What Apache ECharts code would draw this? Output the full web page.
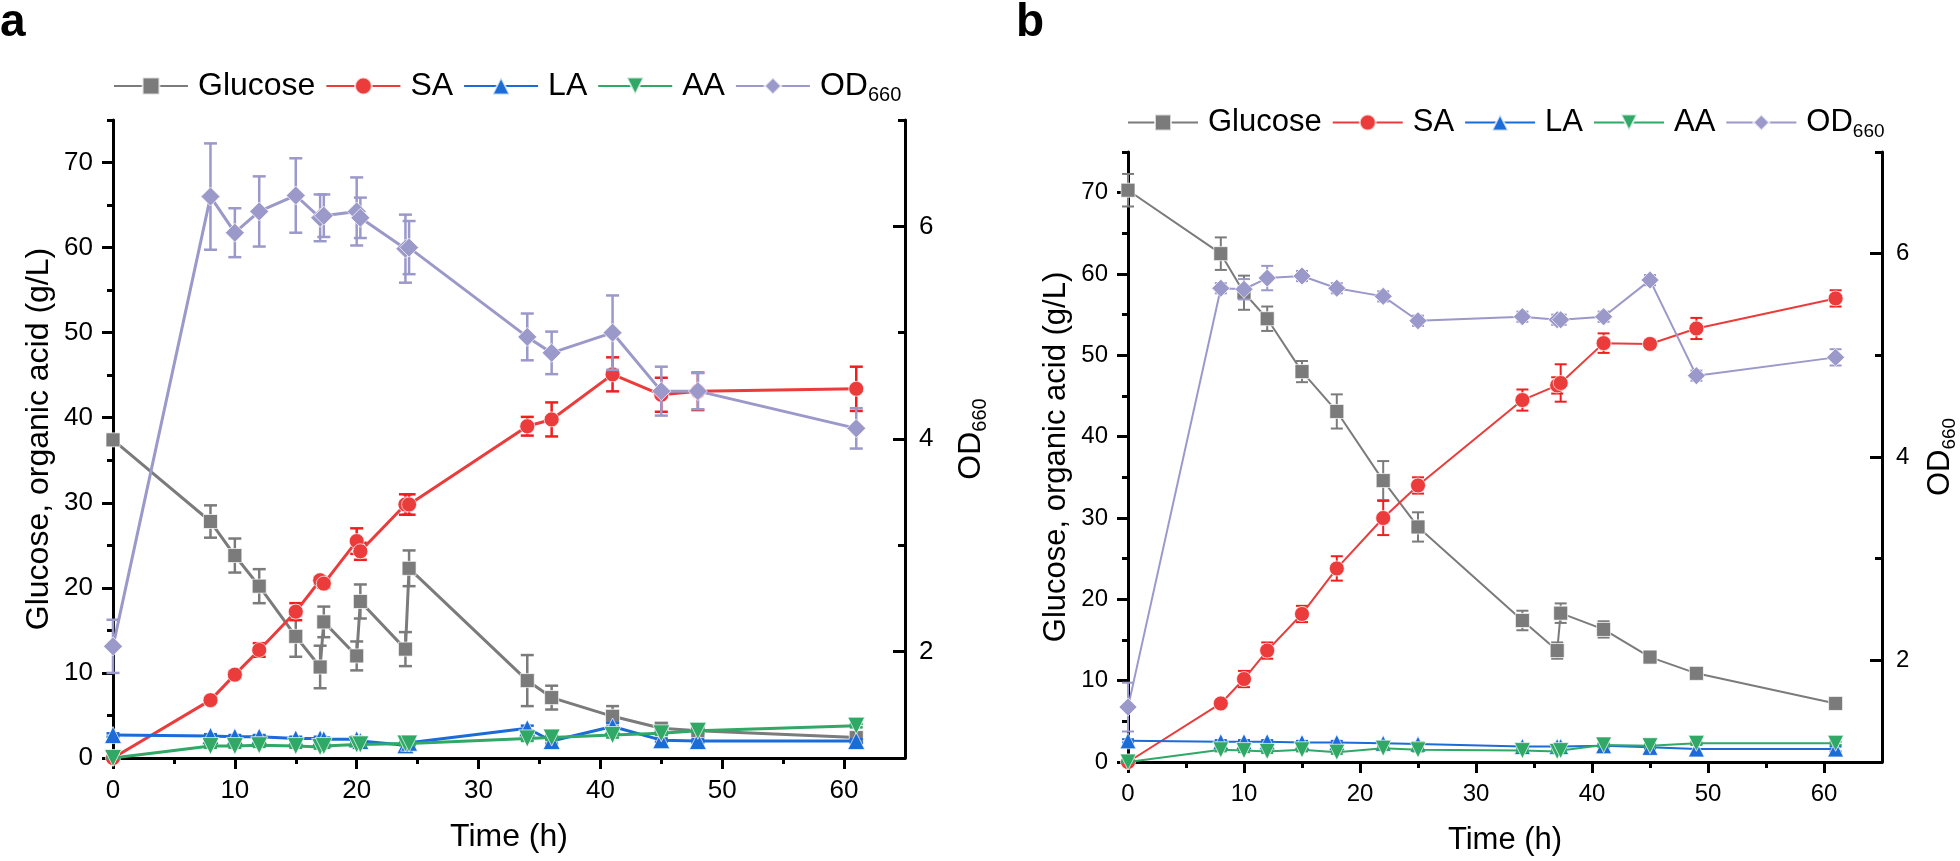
<!DOCTYPE html>
<html><head><meta charset="utf-8">
<script src="https://cdn.jsdelivr.net/npm/echarts@6/dist/echarts.min.js"></script>
<style>html,body{margin:0;padding:0;background:#fff}#c{width:1960px;height:861px}</style>
</head><body><div id="c"></div>
<script>
// ---------- Panel a data ----------
const timeA = [0, 8, 10, 12, 15, 17, 17.3, 20, 20.3, 24, 24.3, 34, 36, 41, 45, 48, 61];
const glucoseA = [37.4, 27.8, 23.8, 20.2, 14.3, 10.7, 16.0, 12.0, 18.4, 12.8, 22.3, 9.1, 7.1, 4.9, 3.5, 3.2, 2.4];
const glucoseErrA = [0.6, 1.9, 2.0, 2.0, 2.4, 2.5, 1.8, 1.7, 2.0, 2.0, 2.1, 3.0, 1.4, 1.2, 0.5, 0.4, 0.5];
const saA = [0, 6.8, 9.8, 12.7, 17.2, 20.9, 20.5, 25.5, 24.3, 29.8, 29.8, 39.0, 39.8, 45.1, 42.7, 43.1, 43.4];
const saErrA = [0.2, 0.3, 0.4, 0.8, 1.0, 0.4, 0.5, 1.5, 1.0, 1.2, 1.2, 1.1, 2.0, 2.0, 2.0, 2.2, 2.6];
const laA = [2.7, 2.6, 2.5, 2.5, 2.3, 2.3, 2.2, 2.2, 2.0, 1.5, 1.8, 3.5, 2.0, 3.7, 2.1, 2.0, 2.0];
const laErrA = [0.2, 0.2, 0.2, 0.2, 0.2, 0.2, 0.2, 0.3, 0.3, 0.8, 0.3, 0.3, 0.3, 0.4, 0.2, 0.2, 0.2];
const aaA = [0, 1.4, 1.4, 1.5, 1.4, 1.3, 1.4, 1.6, 1.6, 1.7, 1.7, 2.3, 2.4, 2.7, 2.9, 3.2, 3.8];
const aaErrA = [0.1, 0.2, 0.2, 0.2, 0.2, 0.2, 0.2, 0.2, 0.2, 0.2, 0.2, 0.3, 0.3, 0.3, 0.2, 0.2, 0.2];
const odA = [2.05, 6.28, 5.94, 6.14, 6.29, 6.08, 6.10, 6.14, 6.08, 5.79, 5.80, 4.96, 4.81, 5.00, 4.45, 4.45, 4.10];
const odErrA = [0.25, 0.50, 0.23, 0.33, 0.35, 0.22, 0.20, 0.32, 0.19, 0.32, 0.25, 0.22, 0.20, 0.35, 0.23, 0.17, 0.19];

// ---------- Panel b data ----------
const timeB = [0, 8, 10, 12, 15, 18, 22, 25, 34, 37, 37.3, 41, 45, 49, 61];
const glucoseB = [70.3, 62.5, 57.7, 54.5, 48.0, 43.1, 34.6, 28.9, 17.4, 13.7, 18.3, 16.3, 12.9, 10.9, 7.2];
const glucoseErrB = [2.0, 2.0, 2.1, 1.5, 1.3, 2.1, 2.4, 1.8, 1.2, 1.0, 1.2, 1.0, 0.3, 0.3, 0.3];
const saB = [0, 7.2, 10.2, 13.7, 18.2, 23.8, 30.0, 34.0, 44.5, 46.3, 46.6, 51.5, 51.4, 53.3, 57.0];
const saErrB = [0.2, 0.3, 1.0, 1.0, 1.0, 1.5, 2.1, 1.0, 1.3, 1.0, 2.3, 1.2, 0.5, 1.3, 1.0];
const laB = [2.6, 2.5, 2.5, 2.5, 2.4, 2.4, 2.3, 2.2, 1.9, 1.9, 1.9, 2.0, 1.8, 1.6, 1.6];
const laErrB = [0.2, 0.2, 0.2, 0.2, 0.2, 0.2, 0.2, 0.2, 0.2, 0.2, 0.2, 0.2, 0.2, 0.6, 0.3];
const aaB = [0, 1.5, 1.4, 1.3, 1.5, 1.2, 1.7, 1.5, 1.4, 1.3, 1.4, 2.1, 2.0, 2.3, 2.3];
const aaErrB = [0.1, 0.2, 0.2, 0.2, 0.2, 0.2, 0.2, 0.2, 0.2, 0.2, 0.2, 0.2, 0.2, 0.2, 0.2];
const odB = [1.54, 5.66, 5.65, 5.76, 5.78, 5.66, 5.58, 5.34, 5.38, 5.35, 5.35, 5.38, 5.74, 4.80, 4.98];
const odErrB = [0.24, 0.05, 0.10, 0.12, 0.05, 0.05, 0.05, 0.05, 0.05, 0.05, 0.05, 0.05, 0.05, 0.05, 0.08];

// ---------- Tick labels ----------
const xMajorTicks = [0, 10, 20, 30, 40, 50, 60];
const xMinorTicks = [5, 15, 25, 35, 45, 55];
const yMajorTicks = [0, 10, 20, 30, 40, 50, 60, 70];
const yMinorTicks = [5, 15, 25, 35, 45, 55, 65, 75];
const odMajorTicks = [2, 4, 6];
const odMinorTicks = [3, 5, 7];
const seriesNames = ['Glucose', 'SA', 'LA', 'AA', 'OD660'];

const FONT = '"Liberation Sans", Arial, Helvetica, sans-serif';
const COL = { Glucose: '#7b7b7b', SA: '#ec3b3b', LA: '#1b6bd9', AA: '#30a866', OD660: '#9b98ca' };
const ERRCOL = { Glucose: '#7b7b7b', SA: '#f01e1e', LA: '#1b6bd9', AA: '#30a866', OD660: '#9b98ca' };

const chart = echarts.init(document.getElementById('c'), null, { renderer: 'canvas' });

function xAxesFor(gi, fs, nfs) {
  const base = { type: 'value', gridIndex: gi, min: 0, max: 65, splitLine: { show: false }, position: 'bottom' };
  return [
    Object.assign({}, base, {
      name: 'Time (h)', nameLocation: 'middle', nameGap: 63,
      nameTextStyle: { fontSize: nfs, color: '#000', fontFamily: FONT },
      axisLine: { show: true, onZero: false, lineStyle: { color: '#000', width: 3 } },
      axisTick: { show: true, customValues: xMajorTicks, length: 11, lineStyle: { color: '#000', width: 3 } },
      axisLabel: { show: true, customValues: xMajorTicks, margin: 20, fontSize: fs, color: '#000', fontFamily: FONT }
    }),
    Object.assign({}, base, {
      axisLine: { show: false, onZero: false },
      axisTick: { show: true, customValues: xMinorTicks, length: 6, lineStyle: { color: '#000', width: 3 } },
      axisLabel: { show: false }
    })
  ];
}
function yAxesFor(gi, fs, nfs, leftGap, rightGap) {
  return [
    { type: 'value', gridIndex: gi, position: 'left', min: 0, max: 75, splitLine: { show: false },
      name: 'Glucose, organic acid (g/L)', nameLocation: 'middle', nameGap: leftGap, nameRotate: 90,
      nameTextStyle: { fontSize: nfs, color: '#000', fontFamily: FONT },
      axisLine: { show: true, onZero: false, lineStyle: { color: '#000', width: 3 } },
      axisTick: { show: true, customValues: yMajorTicks, length: 11, lineStyle: { color: '#000', width: 3 } },
      axisLabel: { show: true, customValues: yMajorTicks, margin: 20, fontSize: fs, color: '#000', fontFamily: FONT } },
    { type: 'value', gridIndex: gi, position: 'left', min: 0, max: 75, splitLine: { show: false },
      axisLine: { show: false, onZero: false },
      axisTick: { show: true, customValues: yMinorTicks, length: 6, lineStyle: { color: '#000', width: 3 } },
      axisLabel: { show: false } },
    { type: 'value', gridIndex: gi, position: 'right', min: 1, max: 7, splitLine: { show: false },
      name: '{n|OD}{s|660}', nameLocation: 'middle', nameGap: rightGap, nameRotate: 90,
      nameTextStyle: { color: '#000', fontFamily: FONT,
        rich: { n: { fontSize: nfs, fontFamily: FONT, color: '#000', lineHeight: nfs + 6 },
                s: { fontSize: Math.round(nfs * 0.62), fontFamily: FONT, color: '#000', lineHeight: Math.round(nfs * 0.62), verticalAlign: 'bottom' } } },
      axisLine: { show: true, onZero: false, lineStyle: { color: '#000', width: 3 } },
      axisTick: { show: true, inside: true, customValues: odMajorTicks, length: 12, lineStyle: { color: '#000', width: 3 } },
      axisLabel: { show: true, customValues: odMajorTicks, margin: 14, fontSize: fs, color: '#000', fontFamily: FONT } },
    { type: 'value', gridIndex: gi, position: 'right', min: 1, max: 7, splitLine: { show: false },
      axisLine: { show: false, onZero: false },
      axisTick: { show: true, inside: true, customValues: odMinorTicks, length: 7, lineStyle: { color: '#000', width: 3 } },
      axisLabel: { show: false } }
  ];
}

const SYM = {
  Glucose: { symbol: 'rect', rot: 0 },
  SA: { symbol: 'circle', rot: 0 },
  LA: { symbol: 'triangle', rot: 0 },
  AA: { symbol: 'triangle', rot: 180 },
  OD660: { symbol: 'diamond', rot: 0 }
};

function buildPanel(suffix, xi, yL, yR, time, sets, lw, sizes, cap) {
  const out = [];
  sets.forEach((s, k) => {
    const key = s.name;
    const yi = key === 'OD660' ? yR : yL;
    const col = COL[key];
    const ecol = ERRCOL[key];
    out.push({
      type: 'custom', name: key + suffix + ' err', xAxisIndex: xi, yAxisIndex: yi, silent: true,
      z: 2 + k * 2, clip: false,
      data: time.map((t, i) => [t, s.v[i], s.e[i]]),
      encode: { x: 0, y: 1 },
      renderItem: function (params, api) {
        const x = api.value(0), y = api.value(1), e = api.value(2);
        const top = api.coord([x, y + e]), bot = api.coord([x, y - e]);
        const w = cap / 2;
        const st = { stroke: ecol, lineWidth: lw === 3 ? 2.5 : 2 };
        return { type: 'group', children: [
          { type: 'line', shape: { x1: top[0], y1: top[1], x2: bot[0], y2: bot[1] }, style: st },
          { type: 'line', shape: { x1: top[0] - w, y1: top[1], x2: top[0] + w, y2: top[1] }, style: st },
          { type: 'line', shape: { x1: bot[0] - w, y1: bot[1], x2: bot[0] + w, y2: bot[1] }, style: st }
        ] };
      }
    });
    out.push({
      type: 'line', name: key + suffix, xAxisIndex: xi, yAxisIndex: yi,
      z: 3 + k * 2,
      data: time.map((t, i) => [t, s.v[i]]),
      symbol: SYM[key].symbol, symbolRotate: SYM[key].rot, symbolSize: sizes[key],
      showAllSymbol: true, animation: false,
      lineStyle: { color: col, width: lw },
      itemStyle: { color: col, borderColor: 'rgba(255,255,255,0.7)', borderWidth: 1 },
      emphasis: { disabled: true }
    });
  });
  return out;
}

const seriesA = buildPanel('', 0, 0, 2, timeA, [
  { name: 'Glucose', v: glucoseA, e: glucoseErrA },
  { name: 'SA', v: saA, e: saErrA },
  { name: 'LA', v: laA, e: laErrA },
  { name: 'AA', v: aaA, e: aaErrA },
  { name: 'OD660', v: odA, e: odErrA }
], 3, { Glucose: 14, SA: 15, LA: 17, AA: 17, OD660: 19 }, 13);

const seriesB = buildPanel(' (b)', 2, 4, 6, timeB, [
  { name: 'Glucose', v: glucoseB, e: glucoseErrB },
  { name: 'SA', v: saB, e: saErrB },
  { name: 'LA', v: laB, e: laErrB },
  { name: 'AA', v: aaB, e: aaErrB },
  { name: 'OD660', v: odB, e: odErrB }
], 2, { Glucose: 14, SA: 15, LA: 16, AA: 16, OD660: 18 }, 12);

function legendFor(suffix, left, top, fs, iw, ih) {
  return {
    data: seriesNames.map(n => n + suffix), left: left, top: top, orient: 'horizontal',
    itemWidth: iw, itemHeight: ih, itemGap: 10, selectedMode: false, padding: 0,
    formatter: function (name) {
      const base = name.replace(' (b)', '');
      return base === 'OD660' ? '{n|OD}{s|660}' : base;
    },
    textStyle: {
      fontSize: fs, color: '#000', fontFamily: FONT, padding: [0, 0, 0, 5],
      rich: { n: { fontSize: fs, fontFamily: FONT, color: '#000', lineHeight: fs + 6 },
              s: { fontSize: Math.round(fs * 0.62), fontFamily: FONT, color: '#000', lineHeight: Math.round(fs * 0.62), verticalAlign: 'bottom' } }
    }
  };
}

const option = {
  backgroundColor: '#fff',
  animation: false,
  textStyle: { fontFamily: FONT },
  tooltip: { show: false },
  graphic: [
    { type: 'text', left: 0, top: 0, style: { text: 'a', font: 'bold 46px ' + FONT, fill: '#000' } },
    { type: 'text', left: 1016, top: 0, style: { text: 'b', font: 'bold 46px ' + FONT, fill: '#000' } }
  ],
  legend: [legendFor('', 113, 70, 32, 74, 21), legendFor(' (b)', 1127, 107, 31, 70, 20)],
  grid: [
    { left: 113, top: 120, width: 792, height: 638, containLabel: false },
    { left: 1128, top: 152, width: 760, height: 612, containLabel: false }
  ],
  xAxis: [].concat(xAxesFor(0, 26, 32), xAxesFor(1, 24, 31)),
  yAxis: [].concat(yAxesFor(0, 26, 32, 58, 47), yAxesFor(1, 24, 31, 56, 40)),
  series: [].concat(seriesA, seriesB)
};
chart.setOption(option);
</script>
</body></html>
